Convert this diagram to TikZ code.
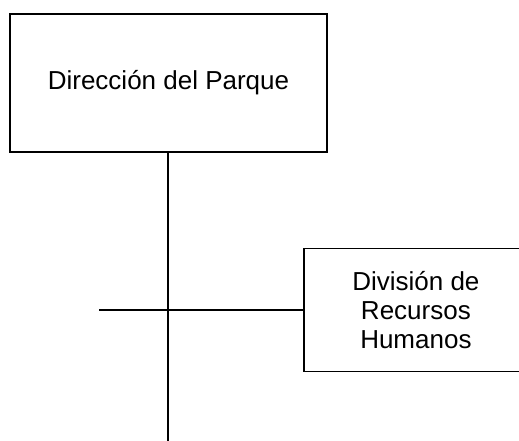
\documentclass[tikz,border=0pt]{standalone}
\usepackage{fontspec}
\setmainfont{Liberation Sans}
\usetikzlibrary{positioning}

\begin{document}
\begin{tikzpicture}[x=1pt, y=-1pt]
    \tikzstyle{unit} = [rectangle, draw, line width=1.8pt, align=center, inner sep=0pt, font=\fontsize{26}{29}\selectfont]
    \tikzstyle{link} = [line width=1.8pt]

    \clip (0,0) rectangle (519,441);
    \useasboundingbox (0,0) rectangle (519,441);

    \node (direccion) [unit, minimum width=317pt, minimum height=138pt] at (168.5,83) {Direcci\'on del Parque};
    \node (rrhh) [unit, minimum width=224pt, minimum height=123pt, anchor=west] at (303,310) {Divisi\'on de\\Recursos\\Humanos};
    \coordinate (bottom) at (168,445);
    \coordinate (left) at (99,310);

    % Lines
    \draw [link] (direccion.south -| bottom) -- (bottom);
    \draw [link] (left) -- (rrhh.west);
\end{tikzpicture}
\end{document}
